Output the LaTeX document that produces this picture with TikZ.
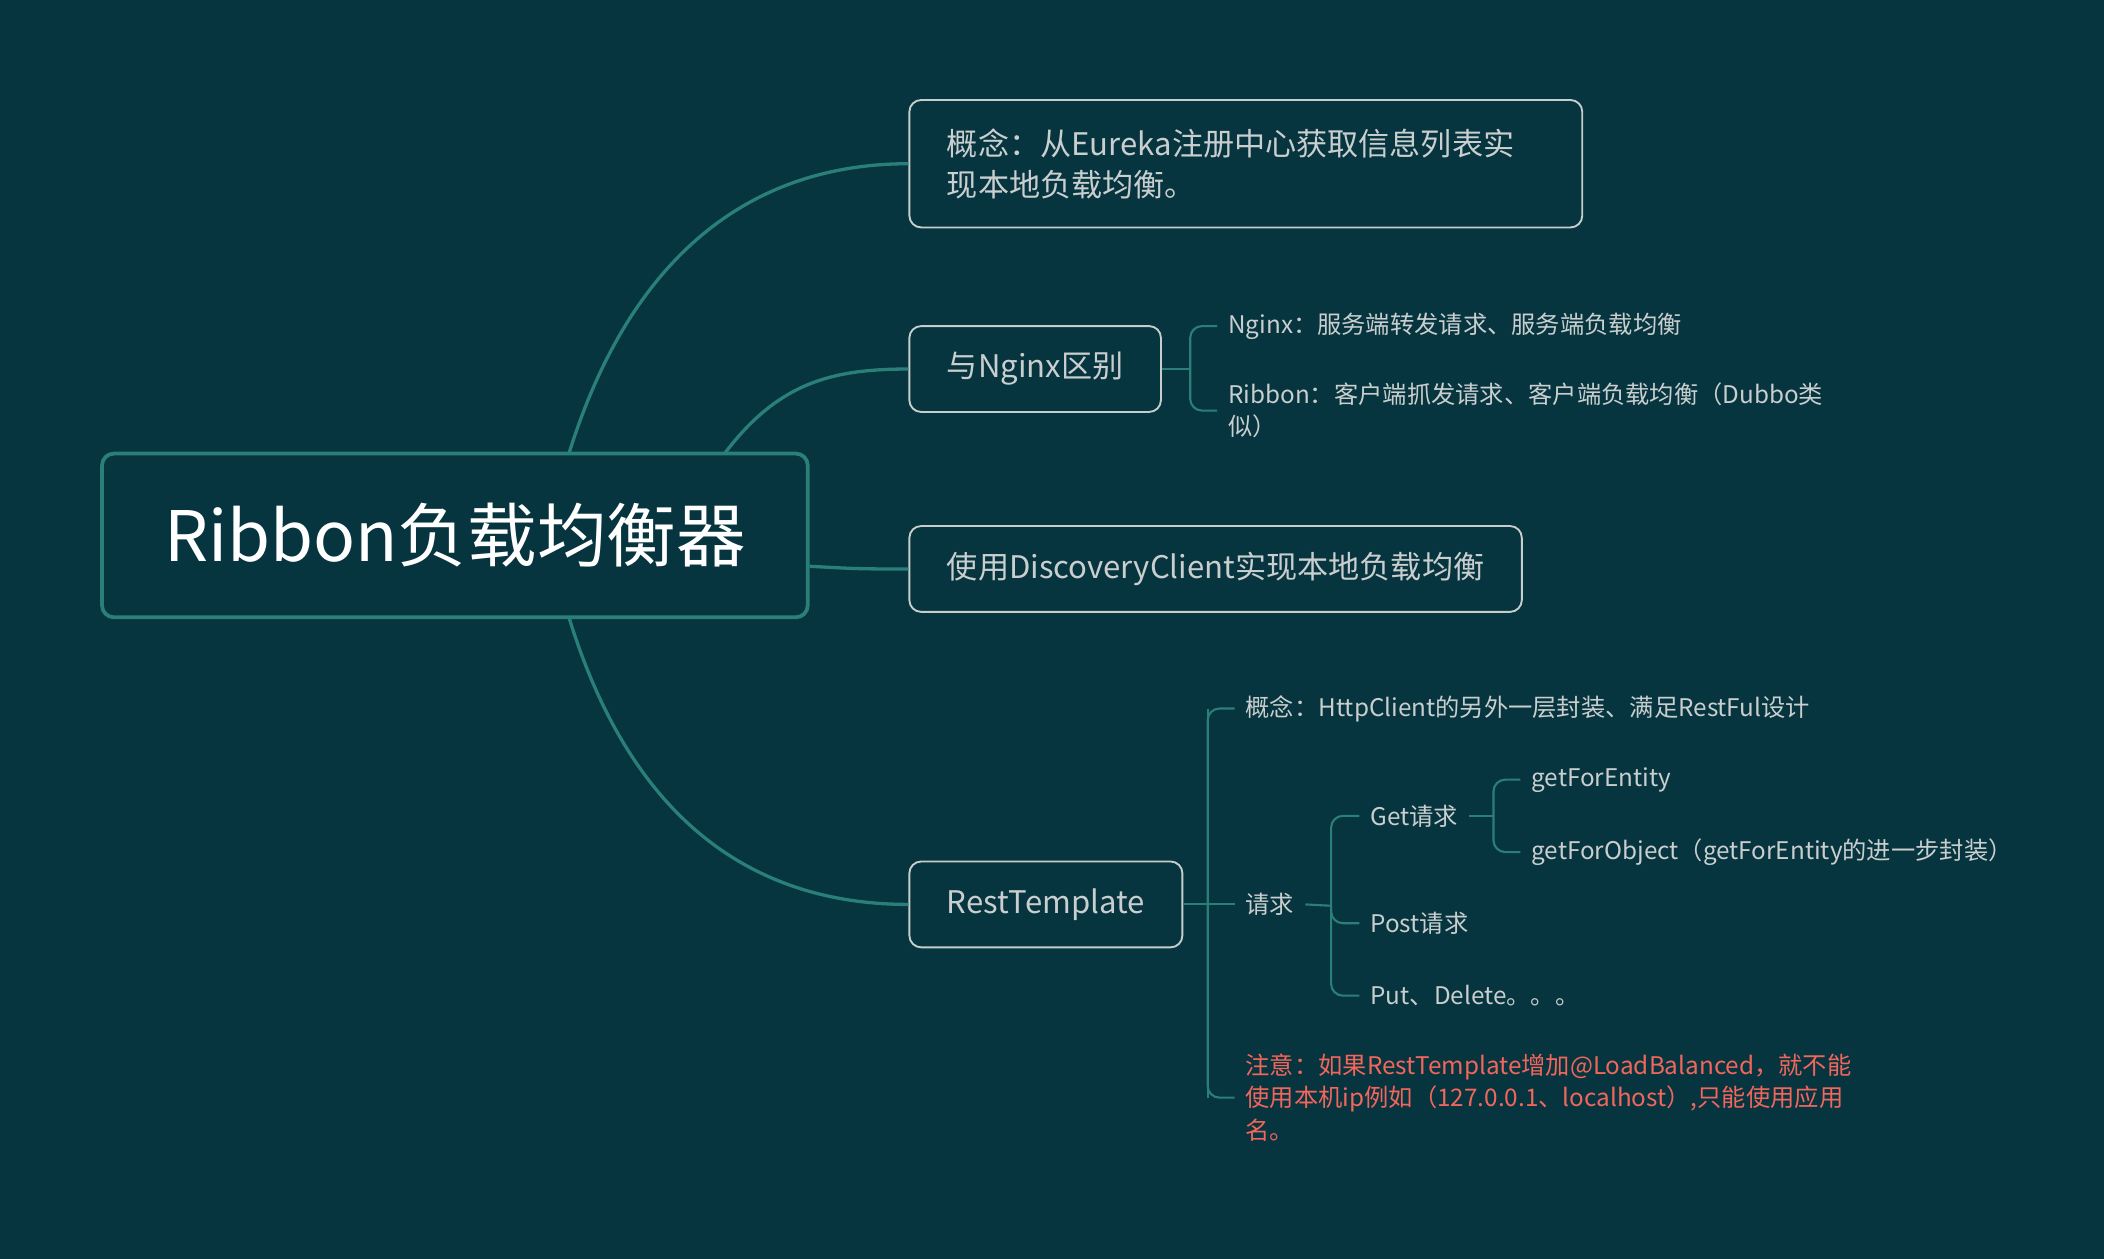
\documentclass[tikz,border=0pt]{standalone}
\usepackage{fontspec}
\setmainfont{Noto Sans CJK SC}
\usetikzlibrary{positioning}
\definecolor{bgteal}{HTML}{06343F}
\definecolor{lineteal}{HTML}{2A7F78}
\definecolor{boxline}{HTML}{C5CDCD}
\definecolor{txtgrey}{HTML}{C9CECE}
\definecolor{notered}{HTML}{F2665B}
\tikzset{
  rootbox/.style={draw=lineteal, line width=1.6pt, rounded corners=5pt, text=white, minimum width=10.52cm, minimum height=2.44cm, font=\fontsize{29.5}{34}\selectfont},
  topic/.style={draw=boxline, line width=0.8pt, rounded corners=5pt, text=txtgrey, anchor=west, inner xsep=0.56cm, minimum height=1.28cm, font=\fontsize{13.2}{17.5}\selectfont},
  leaf/.style={anchor=west, text=txtgrey, inner xsep=0.16cm, inner ysep=0pt, align=left, font=\fontsize{10.3}{13.6}\selectfont},
  branch/.style={draw=lineteal, line width=1.4pt},
  twig/.style={draw=lineteal, line width=0.9pt, rounded corners=5pt}
}
\begin{document}
\begin{tikzpicture}[x=0.02cm, y=-0.02cm]
\fill[bgteal] (0,0) rectangle (1568,938);
\useasboundingbox (0,0) rectangle (1568,938);
% main nodes
\node (root) [rootbox] at (339,399) {Ribbon负载均衡器};
\node (concept) [topic, minimum width=9.74cm, minimum height=1.9cm, align=left] at (677,122) {概念：从Eureka注册中心获取信息列表实\\现本地负载均衡。\hspace*{5.2cm}};
\node (nginx) [topic] at (677,275) {与Nginx区别};
\node (discovery) [topic] at (677,424) {使用DiscoveryClient实现本地负载均衡};
\node (rest) [topic] at (677,674) {RestTemplate};

% branches from root
\coordinate (r1) at (424,338);
\coordinate (r2) at (540,338);
\coordinate (r4) at (424,460);
\draw [branch] (r1) .. controls (470,190) and (560,122) .. (concept.west);
\draw [branch] (r2) .. controls (580,285) and (620,275) .. (nginx.west);
\draw [branch] (root.east |- 0,422) .. controls (640,424) .. (discovery.west);
\draw [branch] (r4) .. controls (470,610) and (560,674) .. (rest.west);

% Nginx leaves
\node (ngx) [leaf] at (907,243) {Nginx：服务端转发请求、服务端负载均衡};
\node (rib) [leaf] at (907,306) {Ribbon：客户端抓发请求、客户端负载均衡（Dubbo类\\似）};
\coordinate (jn) at (887,275);
\draw [twig] (nginx.east) -- (jn);
\draw [twig] (jn) |- (ngx.west);
\draw [twig] (jn) |- (rib.west);

% RestTemplate leaves
\node (rc) [leaf] at (920,528) {概念：HttpClient的另外一层封装、满足RestFul设计};
\node (req) [leaf] at (920,674) {请求};
\node (note) [leaf, text=notered] at (920,818) {注意：如果RestTemplate增加@LoadBalanced，就不能\\使用本机ip例如（127.0.0.1、localhost）,只能使用应用\\名。};
\coordinate (jr) at (900,674);
\draw [twig] (rest.east) -- (jr);
\draw [twig] (jr |- rc.west) -- (jr |- note.west);
\draw [twig] (jr) |- (rc.west);
\draw [twig] (jr) -- (req.west);
\draw [twig] (jr) |- (note.west);

\node (get) [leaf] at (1013,608) {Get请求};
\node (post) [leaf] at (1013,688) {Post请求};
\node (put) [leaf] at (1013,742) {Put、Delete。。。};
\coordinate (jq) at (992,675);
\draw [twig] (req.east) -- (jq);
\draw [twig] (jq) |- (get.west);
\draw [twig] (jq) |- (post.west);
\draw [twig] (jq) |- (put.west);

\node (gfe) [leaf] at (1133,581) {getForEntity};
\node (gfo) [leaf] at (1133,635) {getForObject（getForEntity的进一步封装）};
\coordinate (jg) at (1113,608);
\draw [twig] (get.east) -- (jg);
\draw [twig] (jg) |- (gfe.west);
\draw [twig] (jg) |- (gfo.west);
\end{tikzpicture}
\end{document}
